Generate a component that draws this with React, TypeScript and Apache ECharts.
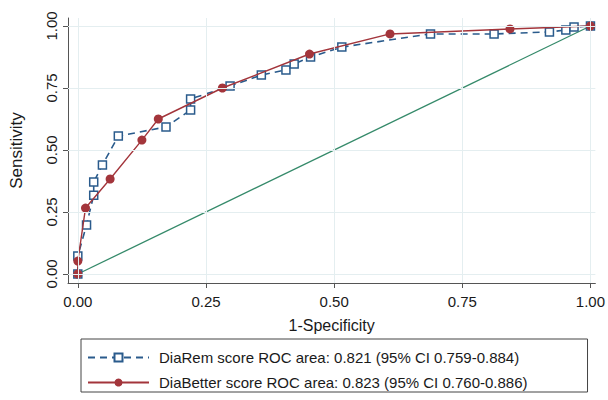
import React, { useEffect, useRef } from "react";
import * as echarts from "echarts";

const remFpr = [0, 0, 0.017, 0.031, 0.031, 0.048, 0.079, 0.172, 0.22, 0.22, 0.297, 0.358, 0.406, 0.422, 0.454, 0.515, 0.688, 0.812, 0.92, 0.952, 0.968, 1];
const remTpr = [0, 0.073, 0.198, 0.318, 0.371, 0.44, 0.556, 0.593, 0.661, 0.706, 0.758, 0.802, 0.823, 0.847, 0.875, 0.915, 0.968, 0.968, 0.976, 0.984, 0.996, 1];
const betFpr = [0, 0, 0.015, 0.063, 0.125, 0.157, 0.282, 0.452, 0.609, 0.843, 1];
const betTpr = [0, 0.052, 0.266, 0.383, 0.54, 0.625, 0.75, 0.887, 0.968, 0.988, 1];
const refX = [0, 1];
const refY = [0, 1];
const ticks = [0, 0.25, 0.5, 0.75, 1];
const remName = "DiaRem score ROC area: 0.821 (95% CI 0.759-0.884)";
const betName = "DiaBetter score ROC area: 0.823 (95% CI 0.760-0.886)";

const FONT = "'Liberation Sans', Arial, sans-serif";
const BLUE = "#2a5b8c";
const RED = "#a3353b";
const GREEN = "#358a6a";
const GRID = "#e4eef0";
const AXIS = "#555555";

const zip = (a: number[], b: number[]) => a.map((v, i) => [v, b[i]]);

export default function App() {
  const ref = useRef<HTMLDivElement>(null);
  useEffect(() => {
    if (!ref.current) return;
    const chart = echarts.init(ref.current, undefined, { renderer: "svg" });
    const axisCommon = {
      type: "value" as const,
      axisLine: { show: true, onZero: false, lineStyle: { color: AXIS, width: 1 } },
      axisTick: { show: true, customValues: ticks, length: 5, lineStyle: { color: AXIS } },
      splitLine: { show: false },
    };
    chart.setOption({
      animation: false,
      backgroundColor: "#ffffff",
      textStyle: { fontFamily: FONT },
      grid: { left: 63, right: 8, top: 18, bottom: 117, containLabel: false },
      xAxis: {
        ...axisCommon,
        min: -10 / 522,
        max: 1 + 5 / 522,
        name: "1-Specificity",
        nameLocation: "middle",
        nameGap: 34,
        nameTextStyle: { fontSize: 16, color: "#1a1a1a", fontFamily: FONT },
        axisLabel: {
          customValues: ticks,
          formatter: (v: number) => v.toFixed(2),
          fontSize: 15,
          color: "#1a1a1a",
          margin: 11,
          fontFamily: FONT,
        },
      },
      yAxis: {
        ...axisCommon,
        min: -9 / 248,
        max: 1 + 8 / 248,
        name: "Sensitivity",
        nameLocation: "middle",
        nameGap: 43,
        nameTextStyle: { fontSize: 17, color: "#1a1a1a", fontFamily: FONT },
        axisLabel: {
          customValues: ticks,
          formatter: (v: number) => v.toFixed(2),
          fontSize: 15,
          color: "#1a1a1a",
          rotate: 90,
          margin: 9,
          fontFamily: FONT,
        },
      },
      legend: {
        orient: "vertical",
        left: 81,
        top: 339,
        padding: [11, 60, 2, 6],
        itemWidth: 61,
        itemHeight: 10,
        itemGap: 10,
        borderColor: "#444444",
        borderWidth: 1,
        data: [remName, betName],
        textStyle: { fontSize: 15, color: "#1a1a1a", fontFamily: FONT, padding: [0, 0, 0, 5] },
      },
      series: [
        {
          type: "line",
          name: "reference",
          data: zip(refX, refY),
          symbol: "none",
          z: 1,
          silent: true,
          lineStyle: { color: GREEN, width: 1.3 },
          itemStyle: { color: GREEN },
          markLine: {
            silent: true,
            symbol: "none",
            label: { show: false },
            lineStyle: { color: GRID, width: 1, type: "solid" },
            data: [
              ...ticks.map((t) => ({ xAxis: t })),
              ...ticks.map((t) => ({ yAxis: t })),
            ],
          },
        },
        {
          type: "line",
          name: remName,
          data: zip(remFpr, remTpr),
          symbol: "rect",
          symbolSize: 8,
          z: 3,
          lineStyle: { color: BLUE, width: 1.6, type: [7, 5] },
          itemStyle: { color: "#ffffff", borderColor: BLUE, borderWidth: 1.5 },
        },
        {
          type: "line",
          name: betName,
          data: zip(betFpr, betTpr),
          symbol: "circle",
          symbolSize: 9,
          z: 4,
          lineStyle: { color: RED, width: 1.4 },
          itemStyle: { color: RED },
        },
      ],
    });
    return () => chart.dispose();
  }, []);
  return (
    <div
      ref={ref}
      style={{ position: "fixed", left: 0, top: 0, width: 608, height: 400, background: "#fff" }}
    />
  );
}
